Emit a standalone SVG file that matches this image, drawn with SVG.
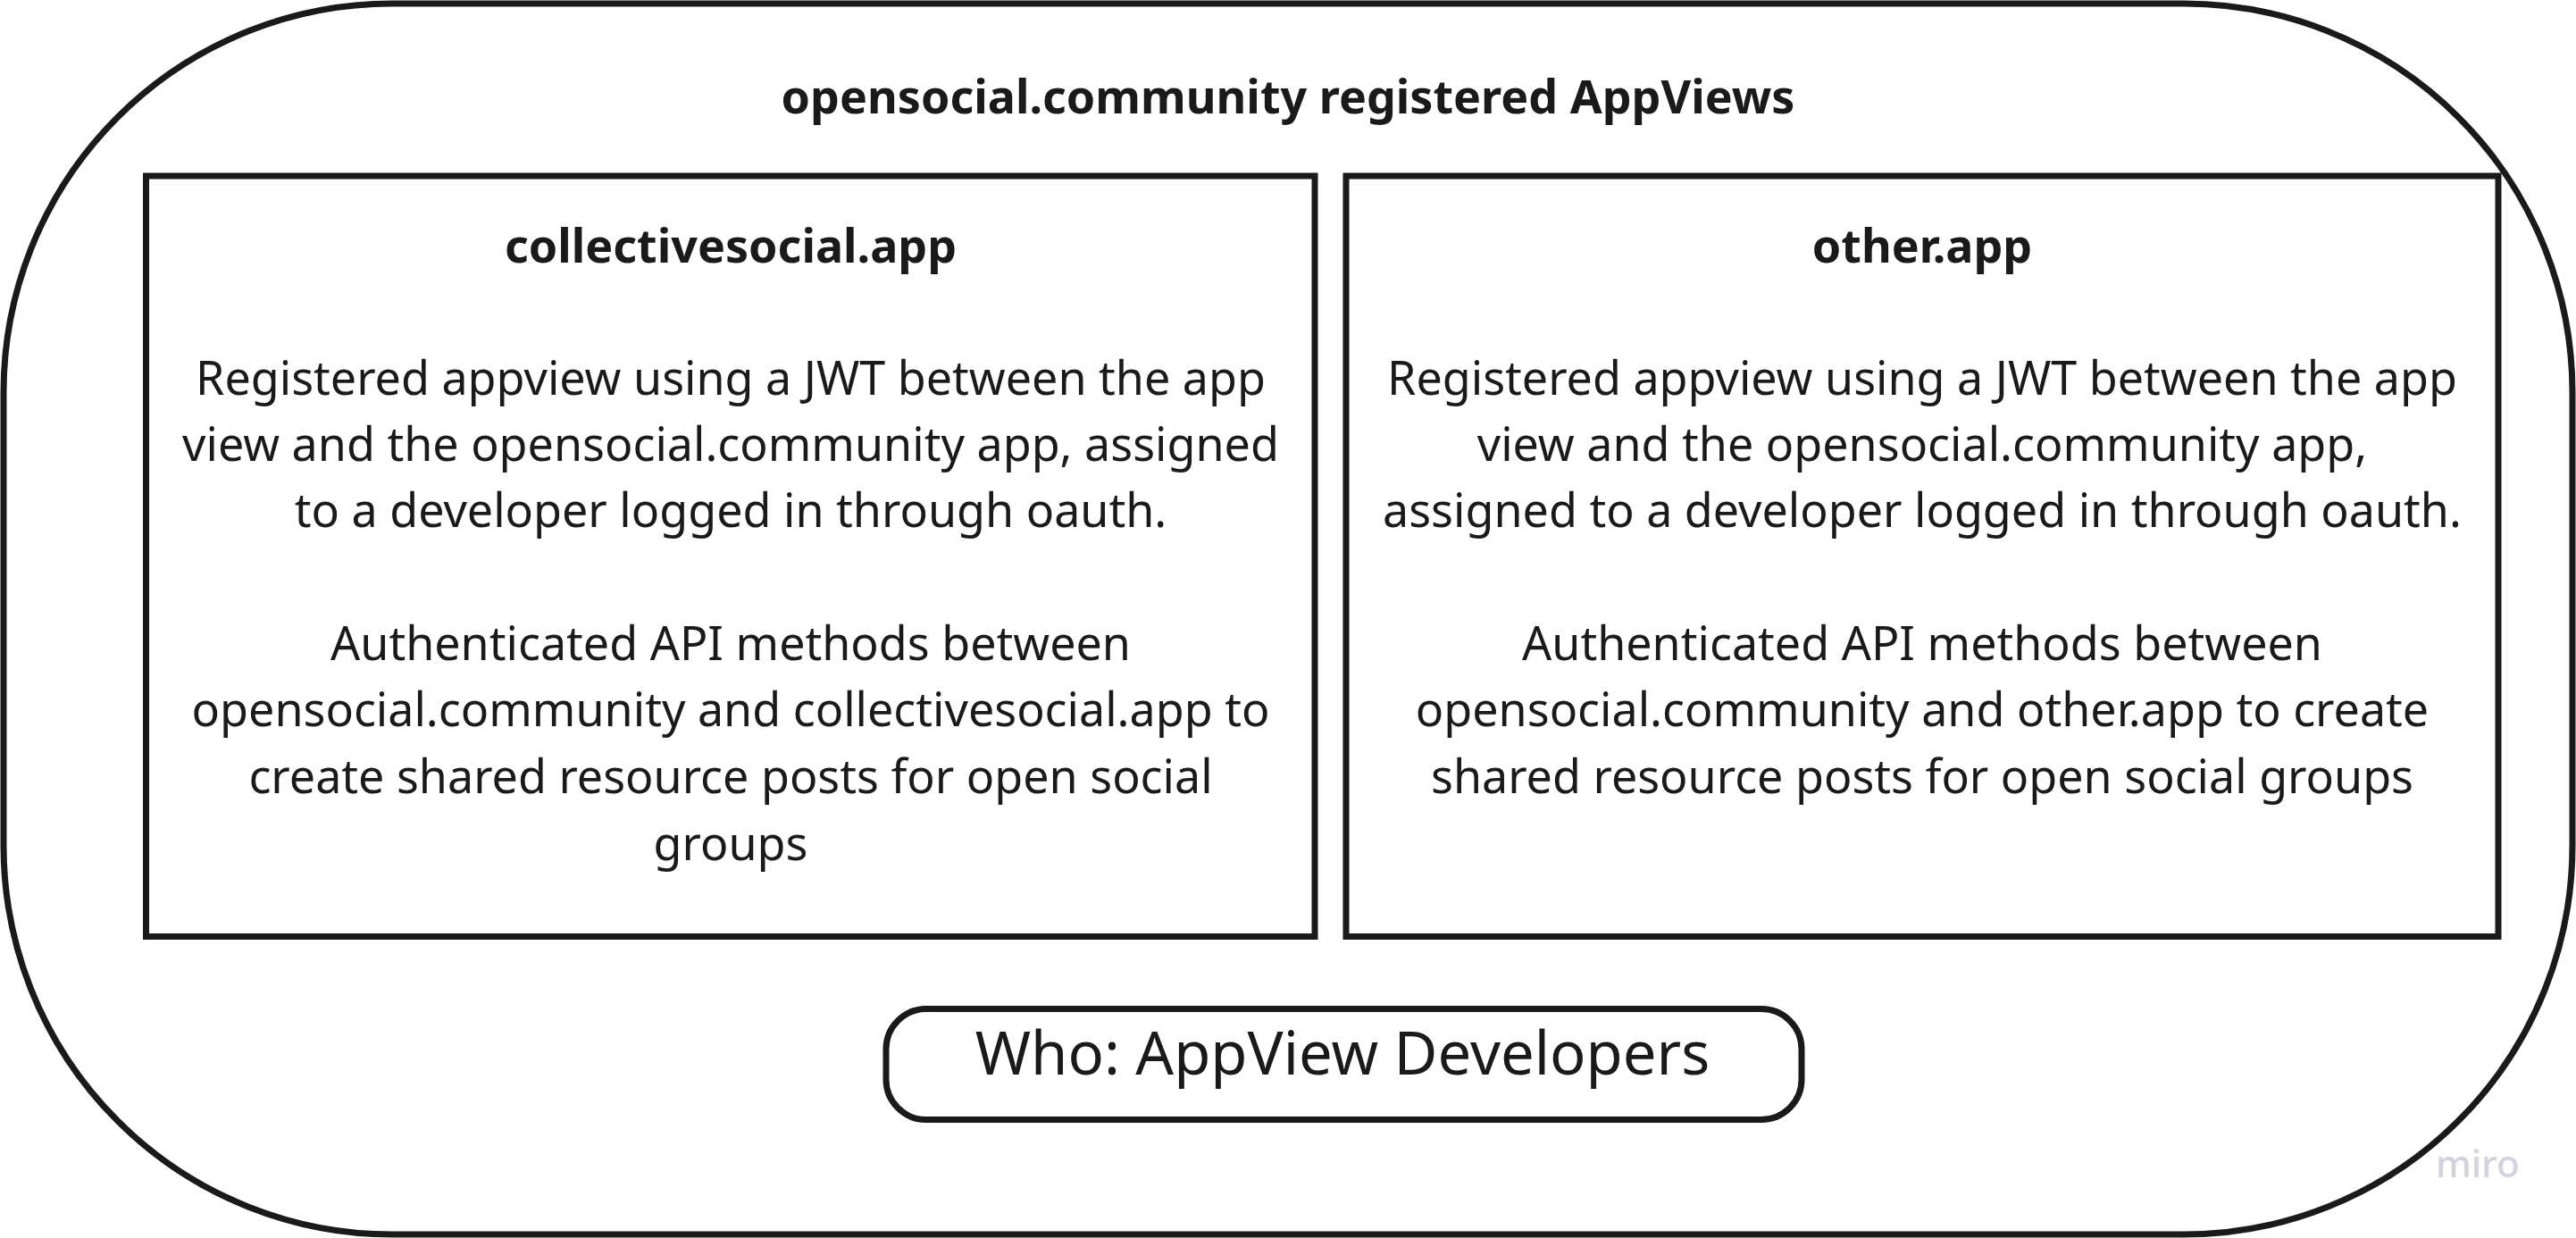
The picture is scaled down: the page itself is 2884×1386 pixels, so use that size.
<svg xmlns="http://www.w3.org/2000/svg" width="2884" height="1386" viewBox="0 0 2884 1386">
<style>
.frame{fill:#ffffff;stroke:#1a1a1a;stroke-width:7}
.t{font-family:"Noto Sans","Open Sans",sans-serif;fill:#1a1a1a;text-anchor:middle}
.b{font-size:52px}
.h{font-size:52px;font-weight:bold}
.who{font-size:67px}
.wm{font-family:"Noto Sans",sans-serif;font-size:42px;fill:#d3d3e0;font-weight:500}
</style>
<rect width="2884" height="1386" fill="#ffffff"/>
<g id="container">
<rect class="frame" x="4" y="4" width="2876" height="1378" rx="435" ry="435"/>
<text class="t h" x="1442" y="127">opensocial.community registered AppViews</text>
</g>
<g id="collectivesocial">
<rect class="frame" x="163.5" y="197" width="1308.5" height="851.5"/>
<text class="t h" x="818" y="294">collectivesocial.app</text>
<text class="t b" x="818" y="442">Registered appview using a JWT between the app</text>
<text class="t b" x="818" y="516">view and the opensocial.community app, assigned</text>
<text class="t b" x="818" y="590">to a developer logged in through oauth.</text>
<text class="t b" x="818" y="739">Authenticated API methods between</text>
<text class="t b" x="818" y="813">opensocial.community and collectivesocial.app to</text>
<text class="t b" x="818" y="888">create shared resource posts for open social</text>
<text class="t b" x="818" y="963">groups</text>
</g>
<g id="other">
<rect class="frame" x="1507" y="197" width="1290" height="851.5"/>
<text class="t h" x="2152" y="294">other.app</text>
<text class="t b" x="2152" y="442">Registered appview using a JWT between the app</text>
<text class="t b" x="2152" y="516">view and the opensocial.community app,</text>
<text class="t b" x="2152" y="590">assigned to a developer logged in through oauth.</text>
<text class="t b" x="2152" y="739">Authenticated API methods between</text>
<text class="t b" x="2152" y="813">opensocial.community and other.app to create</text>
<text class="t b" x="2152" y="888">shared resource posts for open social groups</text>
</g>
<g id="who">
<rect class="frame" x="992" y="1129.5" width="1025" height="124" rx="45" ry="45"/>
<text class="t who" x="1503" y="1203">Who: AppView Developers</text>
</g>
<g id="connectors"/>
<text class="wm" x="2727" y="1318">miro</text>
</svg>
